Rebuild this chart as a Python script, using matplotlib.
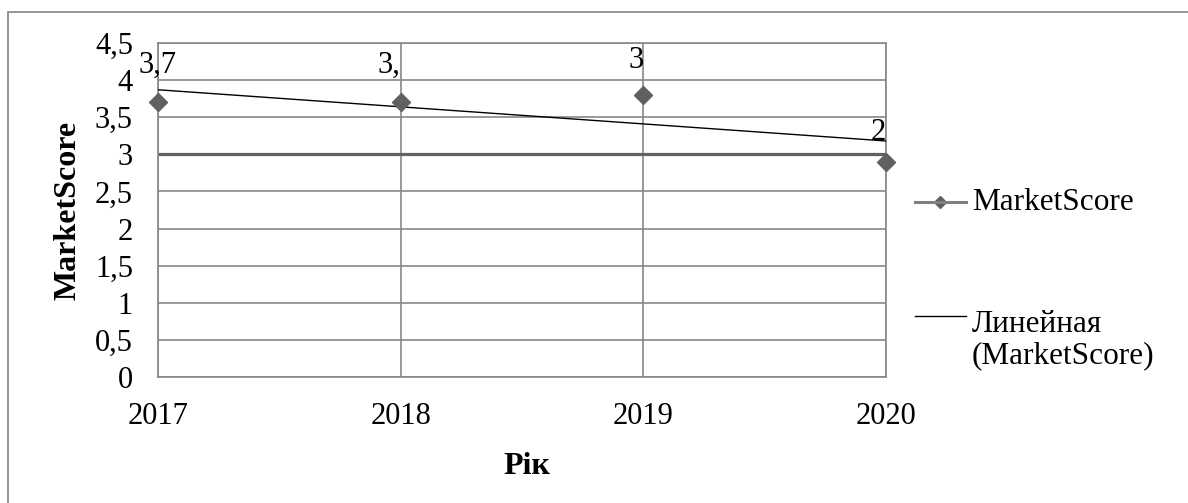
import matplotlib.pyplot as plt
import numpy as np
from matplotlib.lines import Line2D
from matplotlib.patches import Rectangle

plt.rcParams['font.family'] = ['Liberation Serif', 'DejaVu Serif']

# data
years = ['2017', '2018', '2019', '2020']
score = [3.7, 3.7, 3.8, 2.9]
point_labels = ['3,7', '3,', '3', '2']   # labels as they appear (clipped) in the source
yticks = [0, 0.5, 1, 1.5, 2, 2.5, 3, 3.5, 4, 4.5]
ytick_labels = ['0', '0,5', '1', '1,5', '2', '2,5', '3', '3,5', '4', '4,5']

W, H = 1188, 503
fig = plt.figure(figsize=(W / 100, H / 100), dpi=100)
ax = fig.add_axes([158 / W, 1 - 377 / H, (886 - 158) / W, (377 - 43) / H])

x = np.arange(len(years))
grid_c = '#878787'

# chart frame
fig.patches.append(Rectangle((8 / W, -0.1), 1.2, 1 - 12 / H + 0.1, transform=fig.transFigure,
                             fill=False, edgecolor='#8c8c8c', lw=1.3))

for v in yticks:
    ax.axhline(v, color=grid_c, lw=1.2, zorder=1)
for xi in x:
    ax.axvline(xi, color=grid_c, lw=1.2, zorder=1)
ax.axhline(3, color='#626262', lw=2.3, zorder=2)

# linear trend
k, b = np.polyfit(x, score, 1)
ax.plot(x, k * x + b, color='black', lw=1.0, zorder=3)

ax.plot(x, score, linestyle='none', marker='D', ms=9.5, color='#606060', zorder=4, clip_on=False)

label_dy = [27, 27, 25, 21]
for i, (xi, yi) in enumerate(zip(x, score)):
    ha = 'center' if i == 0 else 'right'
    ax.annotate(point_labels[i], (xi, yi), xytext=(0, label_dy[i]), textcoords='offset points',
                ha=ha, va='center', fontsize=22, zorder=5, annotation_clip=False)

ax.set_xlim(0, 3)
ax.set_ylim(0, 4.5)
ax.set_xticks(x)
ax.set_xticklabels(years, fontsize=22)
ax.set_yticks(yticks)
ax.set_yticklabels(ytick_labels, fontsize=22)
ax.tick_params(axis='both', length=0)
ax.tick_params(axis='x', pad=18)
ax.tick_params(axis='y', pad=18)
for s in ax.spines.values():
    s.set_color(grid_c)
    s.set_linewidth(1.2)

fig.text(68 / W, 1 - 210 / H, 'MarketScore', rotation=90, ha='center', va='center',
         fontsize=23, fontweight='bold')
fig.text(527 / W, 1 - 467 / H, 'Рік', ha='center', va='center', fontsize=23, fontweight='bold')

# legend
fig.add_artist(Line2D([915 / W, 966 / W], [1 - 202 / H] * 2, transform=fig.transFigure,
                      color='#808080', lw=2.2, zorder=5))
fig.add_artist(Line2D([940 / W], [1 - 202 / H], transform=fig.transFigure,
                      color='#606060', marker='D', ms=6.5, linestyle='none'))
fig.text(972 / W, 1 - 202 / H, 'MarketScore', ha='left', va='center', fontsize=22.5)
fig.add_artist(Line2D([915 / W, 966 / W], [1 - 316 / H] * 2, transform=fig.transFigure,
                      color='black', lw=1.0))
fig.text(972 / W, 1 - 340 / H, 'Линейная\n(MarketScore)', ha='left', va='center',
         fontsize=22.5, linespacing=1.1)

fig.savefig('out.png', dpi=100)
